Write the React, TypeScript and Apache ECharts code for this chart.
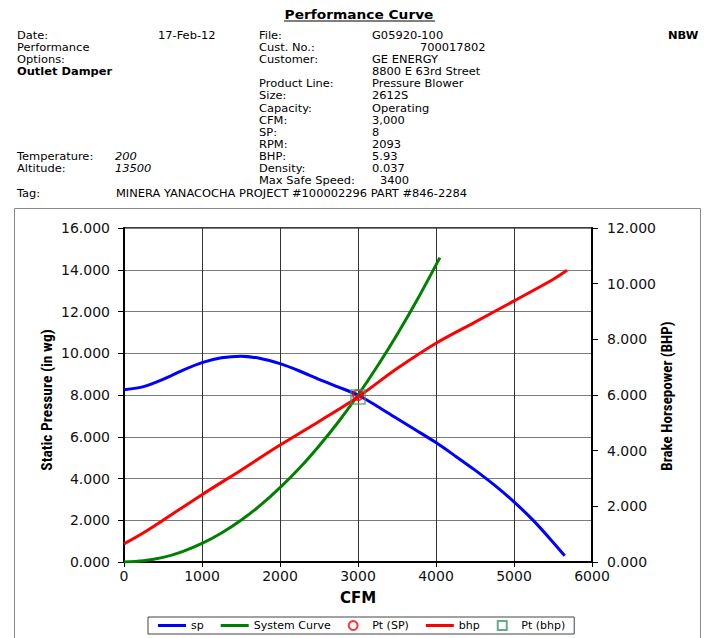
import { useEffect, useRef } from "react";
import * as echarts from "echarts";

// ---- Data ----
const spCfm = [0, 250, 500, 750, 1000, 1250, 1500, 1750, 2000, 2250, 2500, 2750, 3000, 3250, 3500, 3750, 4000, 4250, 4500, 4750, 5000, 5250, 5500, 5650];
const spValues = [8.25, 8.4, 8.75, 9.18, 9.55, 9.78, 9.86, 9.75, 9.5, 9.15, 8.75, 8.38, 8.0, 7.45, 6.87, 6.3, 5.72, 5.07, 4.4, 3.68, 2.88, 1.98, 0.95, 0.3];

const sysCfm = [0, 250, 500, 750, 1000, 1250, 1500, 1750, 2000, 2250, 2500, 2750, 3000, 3250, 3500, 3750, 4050];
const sysValues = [0, 0.06, 0.22, 0.5, 0.89, 1.39, 2.0, 2.72, 3.56, 4.5, 5.56, 6.72, 8.0, 9.39, 10.89, 12.5, 14.58];

const bhpCfm = [0, 250, 500, 1000, 1500, 2000, 2500, 3000, 3500, 4000, 4500, 5000, 5500, 5680];
const bhpValues = [0.65, 1.05, 1.5, 2.42, 3.3, 4.2, 5.05, 5.93, 6.95, 7.86, 8.62, 9.38, 10.15, 10.48];

const ptSP = [3000, 8];
const ptBHP = [3000, 5.93];

const legendNames = ["sp", "System Curve", "Pt (SP)", "bhp", "Pt (bhp)"];

const titleText = "Performance Curve";
const leftColumn = ["Date:", "Performance", "Options:", "Outlet Damper", "", "", "", "", "", "", "Temperature:", "Altitude:", "", "Tag:"];
const leftValues = ["17-Feb-12", "", "", "", "", "", "", "", "", "", "200", "13500", "", "MINERA YANACOCHA PROJECT #100002296 PART #846-2284"];
const infoLabels = ["File:", "Cust. No.:", "Customer:", "", "Product Line:", "Size:", "Capacity:", "CFM:", "SP:", "RPM:", "BHP:", "Density:", "Max Safe Speed:"];
const infoValues = ["G05920-100", "700017802", "GE ENERGY", "8800 E 63rd Street", "Pressure Blower", "2612S", "Operating", "3,000", "8", "2093", "5.93", "0.037", "3400"];
const brand = "NBW";
const yLeftName = "Static Pressure (in wg)";
const yRightName = "Brake Horsepower (BHP)";
const xName = "CFM";

const zip = (xs: number[], ys: number[]) => xs.map((x, i) => [x, ys[i]]);

const FONT = "'DejaVu Sans', 'Liberation Sans', Arial, sans-serif";
const NARROW = "'Liberation Sans Narrow', 'Roboto Condensed', 'Liberation Sans', Arial, sans-serif";
const LINE_ICON = "path://M0 0H28V3H0Z";
const SQUARE_ICON = "path://M0 0H10V10H0Z";

function buildGraphic() {
  const els: any[] = [];
  const rowY = (i: number) => 35.3 + i * 12.15;
  const hdr = 10.4;
  const txt = (x: number, y: number, text: string, extra: any = {}) => ({
    type: "text",
    x,
    y,
    scaleX: 1.1,
    silent: true,
    style: {
      text,
      fill: "#000",
      fontFamily: FONT,
      fontSize: hdr,
      lineHeight: 11,
      align: "left",
      verticalAlign: "middle",
      ...extra,
    },
  });
  // title
  els.push(txt(359, 14.5, titleText, { align: "center", fontWeight: "bold", fontSize: 12.5, lineHeight: 14 }));
  els.push({ type: "line", silent: true, shape: { x1: 284, y1: 21, x2: 435, y2: 21 }, style: { stroke: "#000", lineWidth: 1.2 } });
  els.push(txt(668, rowY(0), brand, { fontWeight: "bold" }));

  leftColumn.forEach((t, i) => {
    if (!t) return;
    els.push(txt(17, rowY(i), t, i === 3 ? { fontWeight: "bold" } : {}));
  });
  leftValues.forEach((t, i) => {
    if (!t) return;
    if (i === 0) els.push(txt(158, rowY(i), t));
    else if (i === 13) els.push(txt(116, rowY(i), t));
    else els.push(txt(115, rowY(i), t, { fontStyle: "italic" }));
  });
  infoLabels.forEach((t, i) => {
    if (!t) return;
    els.push(txt(259, rowY(i), t));
  });
  infoValues.forEach((t, i) => {
    const x = i === 1 ? 420 : i === 12 ? 380 : 372;
    els.push(txt(x, rowY(i), t));
  });

  // outer frame
  els.push({
    type: "rect",
    silent: true,
    shape: { x: 14.5, y: 208.5, width: 686, height: 440 },
    style: { fill: "none", stroke: "#8a8a8a", lineWidth: 1 },
  });

  // axis titles
  els.push({
    type: "text",
    x: 47,
    y: 400,
    rotation: Math.PI / 2,
    silent: true,
    style: { text: yLeftName, fill: "#000", fontFamily: NARROW, fontWeight: "bold", fontSize: 15.5, align: "center", verticalAlign: "middle" },
  });
  els.push({
    type: "text",
    x: 667,
    y: 396,
    rotation: Math.PI / 2,
    silent: true,
    style: { text: yRightName, fill: "#000", fontFamily: NARROW, fontWeight: "bold", fontSize: 15, align: "center", verticalAlign: "middle" },
  });
  return els;
}

export default function App() {
  const ref = useRef<HTMLDivElement>(null);
  useEffect(() => {
    const chart = echarts.init(ref.current!, null, { renderer: "svg" });
    const axisLabel = { fontFamily: FONT, fontSize: 14, color: "#111" };
    chart.setOption({
      animation: false,
      backgroundColor: "#fff",
      textStyle: { fontFamily: FONT },
      graphic: buildGraphic(),
      grid: { left: 124, right: 121, top: 228, bottom: 76, show: true, borderColor: "#000", borderWidth: 1.5, backgroundColor: "transparent" },
      legend: {
        data: [
          { name: legendNames[0], icon: LINE_ICON },
          { name: legendNames[1], icon: LINE_ICON },
          { name: legendNames[2], icon: "circle" },
          { name: legendNames[3], icon: LINE_ICON },
          { name: legendNames[4], icon: SQUARE_ICON },
        ],
        left: 148,
        top: 617,
        orient: "horizontal",
        itemWidth: 28,
        itemHeight: 9,
        itemGap: 17,
        padding: [3, 9, 3, 10],
        borderColor: "#444",
        borderWidth: 1,
        textStyle: { fontFamily: FONT, fontSize: 11, color: "#000" },
        selectedMode: false,
      },
      xAxis: {
        type: "value",
        min: 0,
        max: 6000,
        interval: 1000,
        name: xName,
        nameLocation: "middle",
        nameGap: 28,
        nameTextStyle: { fontFamily: FONT, fontWeight: "bold", fontSize: 15, color: "#000" },
        axisLine: { show: true, lineStyle: { color: "#000", width: 2 } },
        axisTick: { show: true, inside: false, length: 5, lineStyle: { color: "#000" } },
        axisLabel: { ...axisLabel, margin: 7, formatter: (v: number) => String(v) },
        splitLine: { show: true, lineStyle: { color: "#333", width: 1 } },
      },
      yAxis: [
        {
          type: "value",
          position: "left",
          min: 0,
          max: 16,
          interval: 2,
          axisLine: { show: true, lineStyle: { color: "#000", width: 2 } },
          axisTick: { show: true, inside: false, length: 6, lineStyle: { color: "#000" } },
          axisLabel: { ...axisLabel, margin: 14, formatter: (v: number) => v.toFixed(3) },
          splitLine: { show: true, lineStyle: { color: "#7a7a7a", width: 1 } },
        },
        {
          type: "value",
          position: "right",
          min: 0,
          max: 12,
          interval: 2,
          axisLine: { show: true, lineStyle: { color: "#000", width: 2 } },
          axisTick: { show: true, inside: false, length: 6, lineStyle: { color: "#000" } },
          axisLabel: { ...axisLabel, margin: 15, formatter: (v: number) => v.toFixed(3) },
          splitLine: { show: false },
        },
      ],
      series: [
        {
          name: "sp",
          type: "line",
          yAxisIndex: 0,
          data: zip(spCfm, spValues),
          smooth: 0.25,
          showSymbol: false,
          symbol: "none",
          lineStyle: { color: "#0000ff", width: 3 },
          itemStyle: { color: "#0000ff" },
          z: 3,
        },
        {
          name: "System Curve",
          type: "line",
          yAxisIndex: 0,
          data: zip(sysCfm, sysValues),
          smooth: 0.35,
          showSymbol: false,
          symbol: "none",
          lineStyle: { color: "#008000", width: 3 },
          itemStyle: { color: "#008000" },
          z: 3,
        },
        {
          name: "bhp",
          type: "line",
          yAxisIndex: 1,
          data: zip(bhpCfm, bhpValues),
          smooth: 0.3,
          showSymbol: false,
          symbol: "none",
          lineStyle: { color: "#ff0000", width: 3 },
          itemStyle: { color: "#ff0000" },
          z: 3,
        },
        {
          name: "Pt (SP)",
          type: "scatter",
          yAxisIndex: 0,
          data: [ptSP],
          symbol: "circle",
          symbolSize: 10,
          itemStyle: { color: "rgba(0,0,0,0)", borderColor: "#ff0000", borderWidth: 2 },
          z: 5,
        },
        {
          name: "Pt (bhp)",
          type: "scatter",
          yAxisIndex: 1,
          data: [ptBHP],
          symbol: "rect",
          symbolSize: 14,
          itemStyle: { color: "rgba(0,0,0,0)", borderColor: "#3c9a6c", borderWidth: 1.5 },
          z: 5,
        },
      ],
    });
    return () => chart.dispose();
  }, []);
  return (
    <div
      ref={ref}
      style={{ position: "absolute", left: 0, top: 0, width: 713, height: 638, background: "#fff" }}
    />
  );
}
